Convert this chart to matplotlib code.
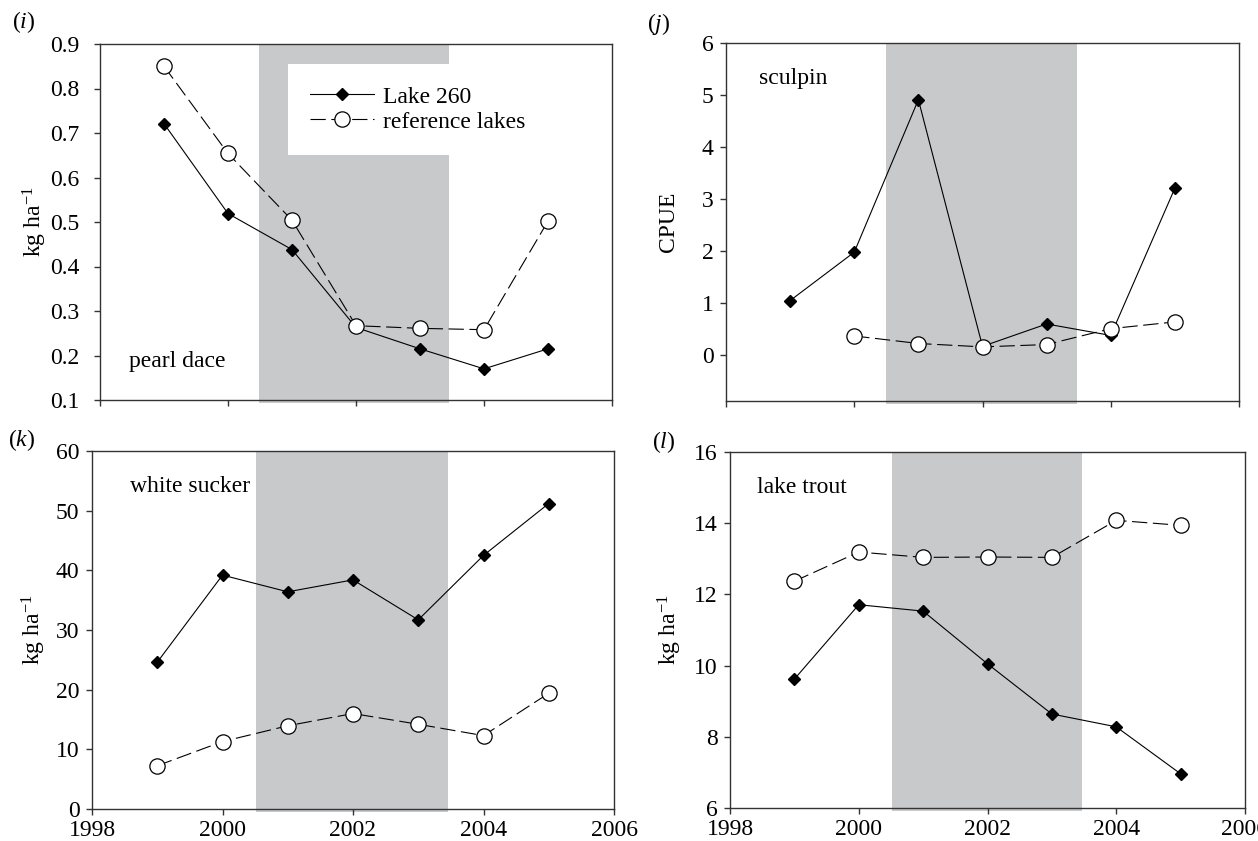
import numpy as np
import matplotlib
matplotlib.use("Agg")
import matplotlib.pyplot as plt

plt.rcParams['font.family'] = ['Liberation Serif', 'DejaVu Serif']
plt.rcParams['mathtext.fontset'] = 'custom'
plt.rcParams['mathtext.rm'] = 'Liberation Serif'
plt.rcParams['mathtext.it'] = 'Liberation Serif:italic'
plt.rcParams['lines.scale_dashes'] = False

years = [1999, 2000, 2001, 2002, 2003, 2004, 2005]

pearl_lake = [0.721, 0.519, 0.438, 0.263, 0.215, 0.170, 0.215]
pearl_ref = [0.850, 0.654, 0.504, 0.267, 0.261, 0.258, 0.502]

sculpin_lake = [1.05, 1.98, 4.91, 0.17, 0.60, 0.38, 3.21]
sculpin_ref = [np.nan, 0.37, 0.225, 0.16, 0.205, 0.51, 0.64]

sucker_lake = [24.6, 39.2, 36.4, 38.4, 31.7, 42.5, 51.2]
sucker_ref = [7.25, 11.3, 13.95, 16.0, 14.2, 12.3, 19.4]

trout_lake = [9.62, 11.71, 11.53, 10.05, 8.64, 8.28, 6.96]
trout_ref = [12.37, 13.19, 13.04, 13.05, 13.04, 14.08, 13.94]

panels = [
    dict(tag='i', name='pearl dace', ylabel='kg ha$^{-1}$', lake=pearl_lake, ref=pearl_ref,
         ylim=(0.1, 0.9), yticks=np.arange(0.1, 0.91, 0.1), fmt='{:.1f}', ypad=11, labx=-0.100,
         pos=[100, 612, 44, 400], tagpos=(12, 22), name_xy=(0.056, 0.107), xlab=False,
         shade=(2000.49, 2003.45)),
    dict(tag='j', name='sculpin', ylabel='CPUE', lake=sculpin_lake, ref=sculpin_ref,
         ylim=(-0.88, 6), yticks=np.arange(0, 7, 1), fmt='{:.0f}', ypad=5, labx=-0.092,
         pos=[726, 1239, 43, 401], tagpos=(647, 24), name_xy=(0.064, 0.902), xlab=False,
         shade=(2000.5, 2003.47)),
    dict(tag='k', name='white sucker', ylabel='kg ha$^{-1}$', lake=sucker_lake, ref=sucker_ref,
         ylim=(0, 60), yticks=np.arange(0, 61, 10), fmt='{:.0f}', ypad=5, labx=-0.085,
         pos=[92, 614, 451, 809], tagpos=(8, 440), name_xy=(0.072, 0.90), xlab=True,
         shade=(2000.51, 2003.46)),
    dict(tag='l', name='lake trout', ylabel='kg ha$^{-1}$', lake=trout_lake, ref=trout_ref,
         ylim=(6, 16), yticks=np.arange(6, 17, 2), fmt='{:.0f}', ypad=5, labx=-0.090,
         pos=[730, 1245, 452, 808], tagpos=(652, 442), name_xy=(0.052, 0.90), xlab=True,
         shade=(2000.52, 2003.47)),
]

W, H = 1258, 841
fig = plt.figure(figsize=(W / 100, H / 100), dpi=100)
FS = 17
spine_c = '#333333'
shade_c = '#c8c9cb'

for p in panels:
    l, r, t, b = p['pos']
    ax = fig.add_axes([l / W, 1 - b / H, (r - l) / W, (b - t) / H])
    ax.axvspan(p['shade'][0], p['shade'][1], ymin=-0.008, ymax=1, color=shade_c,
               lw=0, zorder=0, clip_on=False)
    ax.plot(years, p['lake'], color='black', lw=0.8, marker='D', ms=6.5,
            mfc='black', mec='black', zorder=3, label='Lake 260')
    ax.plot(years, p['ref'], color='black', lw=0.8, dashes=(11, 4), marker='o', ms=11,
            mfc='white', mec='black', mew=0.9, zorder=4, label='reference lakes')
    ax.set_xlim(1998, 2006)
    ax.set_ylim(*p['ylim'])
    ax.set_xticks([1998, 2000, 2002, 2004, 2006])
    ax.set_yticks(p['yticks'])
    ax.set_yticklabels([p['fmt'].format(v) for v in p['yticks']])
    if not p['xlab']:
        ax.set_xticklabels([])
    ax.tick_params(direction='out', length=4, width=1, color=spine_c, labelsize=FS,
                   top=False, right=False)
    ax.tick_params(axis='x', pad=4)
    ax.tick_params(axis='y', pad=p['ypad'])
    for s in ax.spines.values():
        s.set_color(spine_c)
        s.set_linewidth(1)
    ax.set_ylabel(p['ylabel'], fontsize=FS)
    ax.yaxis.set_label_coords(p['labx'], 0.5)
    ax.text(p['name_xy'][0], p['name_xy'][1], p['name'], transform=ax.transAxes,
            fontsize=FS, ha='left', va='center')
    fig.text(p['tagpos'][0] / W, 1 - p['tagpos'][1] / H, '($\\mathit{%s}$)' % p['tag'],
             fontsize=FS, ha='left', va='center')
    if p['tag'] == 'i':
        leg = ax.legend(loc='upper left', bbox_to_anchor=(2000.93, 0.856),
                        bbox_transform=ax.transData, fontsize=FS, frameon=True,
                        fancybox=False, framealpha=1, facecolor='white', edgecolor='none',
                        borderpad=0.95, labelspacing=0.15, handlelength=2.7,
                        handletextpad=0.4, borderaxespad=0)
        leg.set_zorder(2)

fig.savefig('out.png', dpi=100)
